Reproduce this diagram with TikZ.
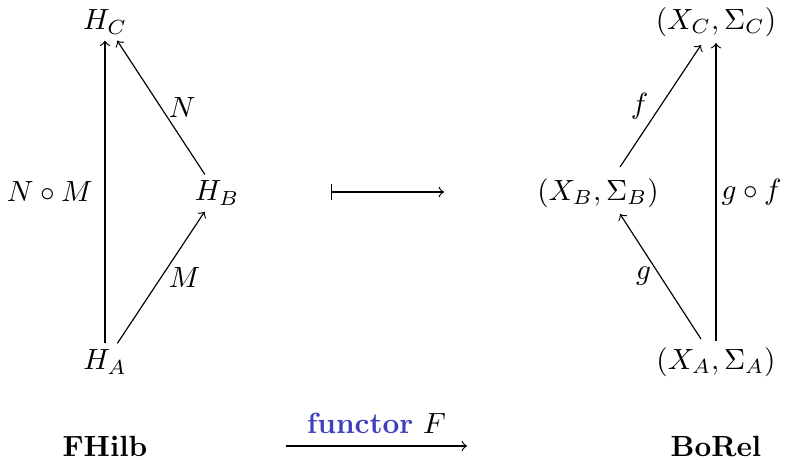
\documentclass[tikz,border=0pt]{standalone}
\usepackage{amsmath,amssymb}
\definecolor{functorblue}{RGB}{64,64,191}
\begin{document}
\begin{tikzpicture}[x=0.012019cm,y=-0.012019cm,
  obj/.style={inner sep=2pt},
  lbl/.style={inner sep=1pt},
  arr/.style={->,line width=0.4pt}]
\useasboundingbox (0,0) rectangle (787,459);
% left diagram
\node[obj] (HC) at (105,22) {$H_C$};
\node[obj] (HB) at (217,193) {$H_B$};
\node[obj] (HA) at (105,362) {$H_A$};
\draw[arr] (HA) -- node[lbl,left=3pt] {$N\circ M$} (HC);
\draw[arr] (HA) -- node[lbl,right=1.5pt,pos=0.5] {$M$} (HB);
\draw[arr] (HB) -- node[lbl,right=1.5pt,pos=0.5] {$N$} (HC);
% mapsto
\coordinate (ms) at (331,192);
\coordinate (me) at (444,192);
\draw[|->] (ms) -- (me);
% right diagram
\node[obj] (XC) at (716,22) {$(X_C,\Sigma_C)$};
\node[obj] (XB) at (598,193) {$(X_B,\Sigma_B)$};
\node[obj] (XA) at (716,362) {$(X_A,\Sigma_A)$};
\draw[arr] (XA) -- node[lbl,right=0.7pt] {$g\circ f$} (XC);
\coordinate (xaa) at (701,339);
\coordinate (xbb) at (620,214);
\draw[arr] (xaa) -- node[lbl,left=2pt,pos=0.5] {$g$} (xbb);
\coordinate (xbt) at (620,167);
\coordinate (xct) at (701,45);
\draw[arr] (xbt) -- node[lbl,left=3pt,pos=0.5] {$f$} (xct);
% bottom
\node (FH) at (105,446) {$\mathbf{FHilb}$};
\node (BR) at (716,446) {$\mathbf{BoRel}$};
\coordinate (fs) at (286,446);
\coordinate (fe) at (467,446);
\draw[->] (fs) -- node[above=0.6pt] {\textcolor{functorblue}{\textbf{functor}} $F$} (fe);
\end{tikzpicture}
\end{document}
